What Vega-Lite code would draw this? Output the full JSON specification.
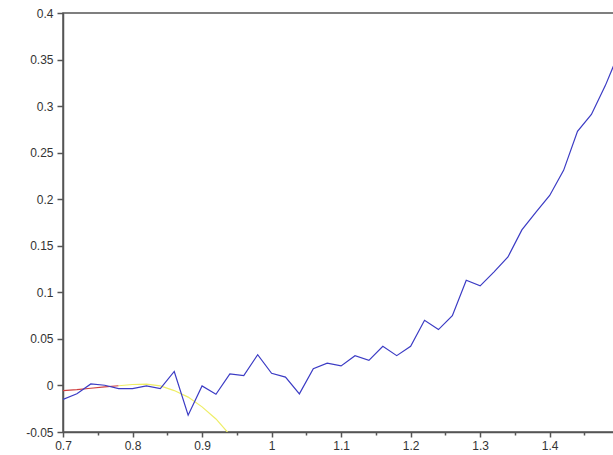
{
  "$schema": "https://vega.github.io/schema/vega-lite/v6.json",
  "autosize": {"type": "none"},
  "padding": {"left": 63, "top": 13, "right": 0, "bottom": 23},
  "width": 551,
  "height": 419,
  "background": "white",
  "view": {"stroke": "#555555", "strokeWidth": 1.5},
  "config": {
    "font": "Liberation Sans",
    "axis": {"labelFont": "Liberation Sans", "labelFontSize": 12, "labelColor": "#333333", "labelFlush": false, "domainColor": "#555555", "domainWidth": 1.5, "tickColor": "#555555", "tickWidth": 1.5, "grid": false, "title": null}
  },
  "data": {"values": [
    {"s": "red", "x": 0.70, "y": -0.0055},
    {"s": "red", "x": 0.72, "y": -0.0045},
    {"s": "red", "x": 0.74, "y": -0.003},
    {"s": "red", "x": 0.76, "y": -0.0015},
    {"s": "red", "x": 0.78, "y": -0.0003},
    {"s": "yellow", "x": 0.78, "y": -0.0003},
    {"s": "yellow", "x": 0.80, "y": 0.001},
    {"s": "yellow", "x": 0.82, "y": 0.0015},
    {"s": "yellow", "x": 0.84, "y": -0.0005},
    {"s": "yellow", "x": 0.86, "y": -0.0055},
    {"s": "yellow", "x": 0.88, "y": -0.0125},
    {"s": "yellow", "x": 0.90, "y": -0.023},
    {"s": "yellow", "x": 0.92, "y": -0.036},
    {"s": "yellow", "x": 0.94, "y": -0.053},
    {"s": "blue", "x": 0.70, "y": -0.015},
    {"s": "blue", "x": 0.72, "y": -0.009},
    {"s": "blue", "x": 0.74, "y": 0.0016},
    {"s": "blue", "x": 0.76, "y": 0.0002},
    {"s": "blue", "x": 0.78, "y": -0.0034},
    {"s": "blue", "x": 0.80, "y": -0.0034},
    {"s": "blue", "x": 0.82, "y": -0.0005},
    {"s": "blue", "x": 0.84, "y": -0.0034},
    {"s": "blue", "x": 0.86, "y": 0.015},
    {"s": "blue", "x": 0.88, "y": -0.032},
    {"s": "blue", "x": 0.90, "y": -0.0005},
    {"s": "blue", "x": 0.92, "y": -0.0095},
    {"s": "blue", "x": 0.94, "y": 0.0125},
    {"s": "blue", "x": 0.96, "y": 0.0105},
    {"s": "blue", "x": 0.98, "y": 0.033},
    {"s": "blue", "x": 1.00, "y": 0.013},
    {"s": "blue", "x": 1.02, "y": 0.009},
    {"s": "blue", "x": 1.04, "y": -0.009},
    {"s": "blue", "x": 1.06, "y": 0.018},
    {"s": "blue", "x": 1.08, "y": 0.024},
    {"s": "blue", "x": 1.10, "y": 0.021},
    {"s": "blue", "x": 1.12, "y": 0.032},
    {"s": "blue", "x": 1.14, "y": 0.027},
    {"s": "blue", "x": 1.16, "y": 0.042},
    {"s": "blue", "x": 1.18, "y": 0.032},
    {"s": "blue", "x": 1.20, "y": 0.042},
    {"s": "blue", "x": 1.22, "y": 0.070},
    {"s": "blue", "x": 1.24, "y": 0.060},
    {"s": "blue", "x": 1.26, "y": 0.075},
    {"s": "blue", "x": 1.28, "y": 0.113},
    {"s": "blue", "x": 1.30, "y": 0.107},
    {"s": "blue", "x": 1.32, "y": 0.122},
    {"s": "blue", "x": 1.34, "y": 0.138},
    {"s": "blue", "x": 1.36, "y": 0.167},
    {"s": "blue", "x": 1.38, "y": 0.186},
    {"s": "blue", "x": 1.40, "y": 0.204},
    {"s": "blue", "x": 1.42, "y": 0.231},
    {"s": "blue", "x": 1.44, "y": 0.273},
    {"s": "blue", "x": 1.46, "y": 0.291},
    {"s": "blue", "x": 1.48, "y": 0.322},
    {"s": "blue", "x": 1.50, "y": 0.358}
  ]},
  "layer": [
    {
      "transform": [{"filter": "datum.s !== 'blue'"}],
      "mark": {"type": "line", "clip": true, "strokeWidth": 1.2},
      "encoding": {
        "x": {"field": "x", "type": "quantitative", "scale": {"domain": [0.7, 1.4925], "nice": false, "zero": false},
              "axis": {"orient": "bottom", "values": [0.75, 0.85, 0.95, 1.05, 1.15, 1.25, 1.35, 1.45], "labels": false, "domain": false, "tickSize": 3}},
        "y": {"field": "y", "type": "quantitative", "scale": {"domain": [-0.05, 0.4], "nice": false, "zero": false},
              "axis": {"values": [-0.05, 0, 0.05, 0.1, 0.15, 0.2, 0.25, 0.3, 0.35, 0.4], "labelExpr": "'' + datum.value", "tickSize": 6, "labelPadding": 4}},
        "color": {"field": "s", "type": "nominal", "scale": {"domain": ["red", "yellow", "blue"], "range": ["#d04040", "#eeee66", "#3b3bc4"]}, "legend": null},
        "detail": {"field": "s"}
      }
    },
    {
      "transform": [{"filter": "datum.s === 'blue'"}],
      "mark": {"type": "line", "clip": true, "strokeWidth": 1.2},
      "encoding": {
        "x": {"field": "x", "type": "quantitative",
              "axis": {"orient": "bottom", "values": [0.7, 0.8, 0.9, 1, 1.1, 1.2, 1.3, 1.4], "labelExpr": "'' + datum.value", "tickSize": 5, "labelPadding": 3}},
        "y": {"field": "y", "type": "quantitative"},
        "color": {"field": "s", "type": "nominal", "legend": null}
      }
    }
  ],
  "resolve": {"axis": {"x": "independent"}}
}
